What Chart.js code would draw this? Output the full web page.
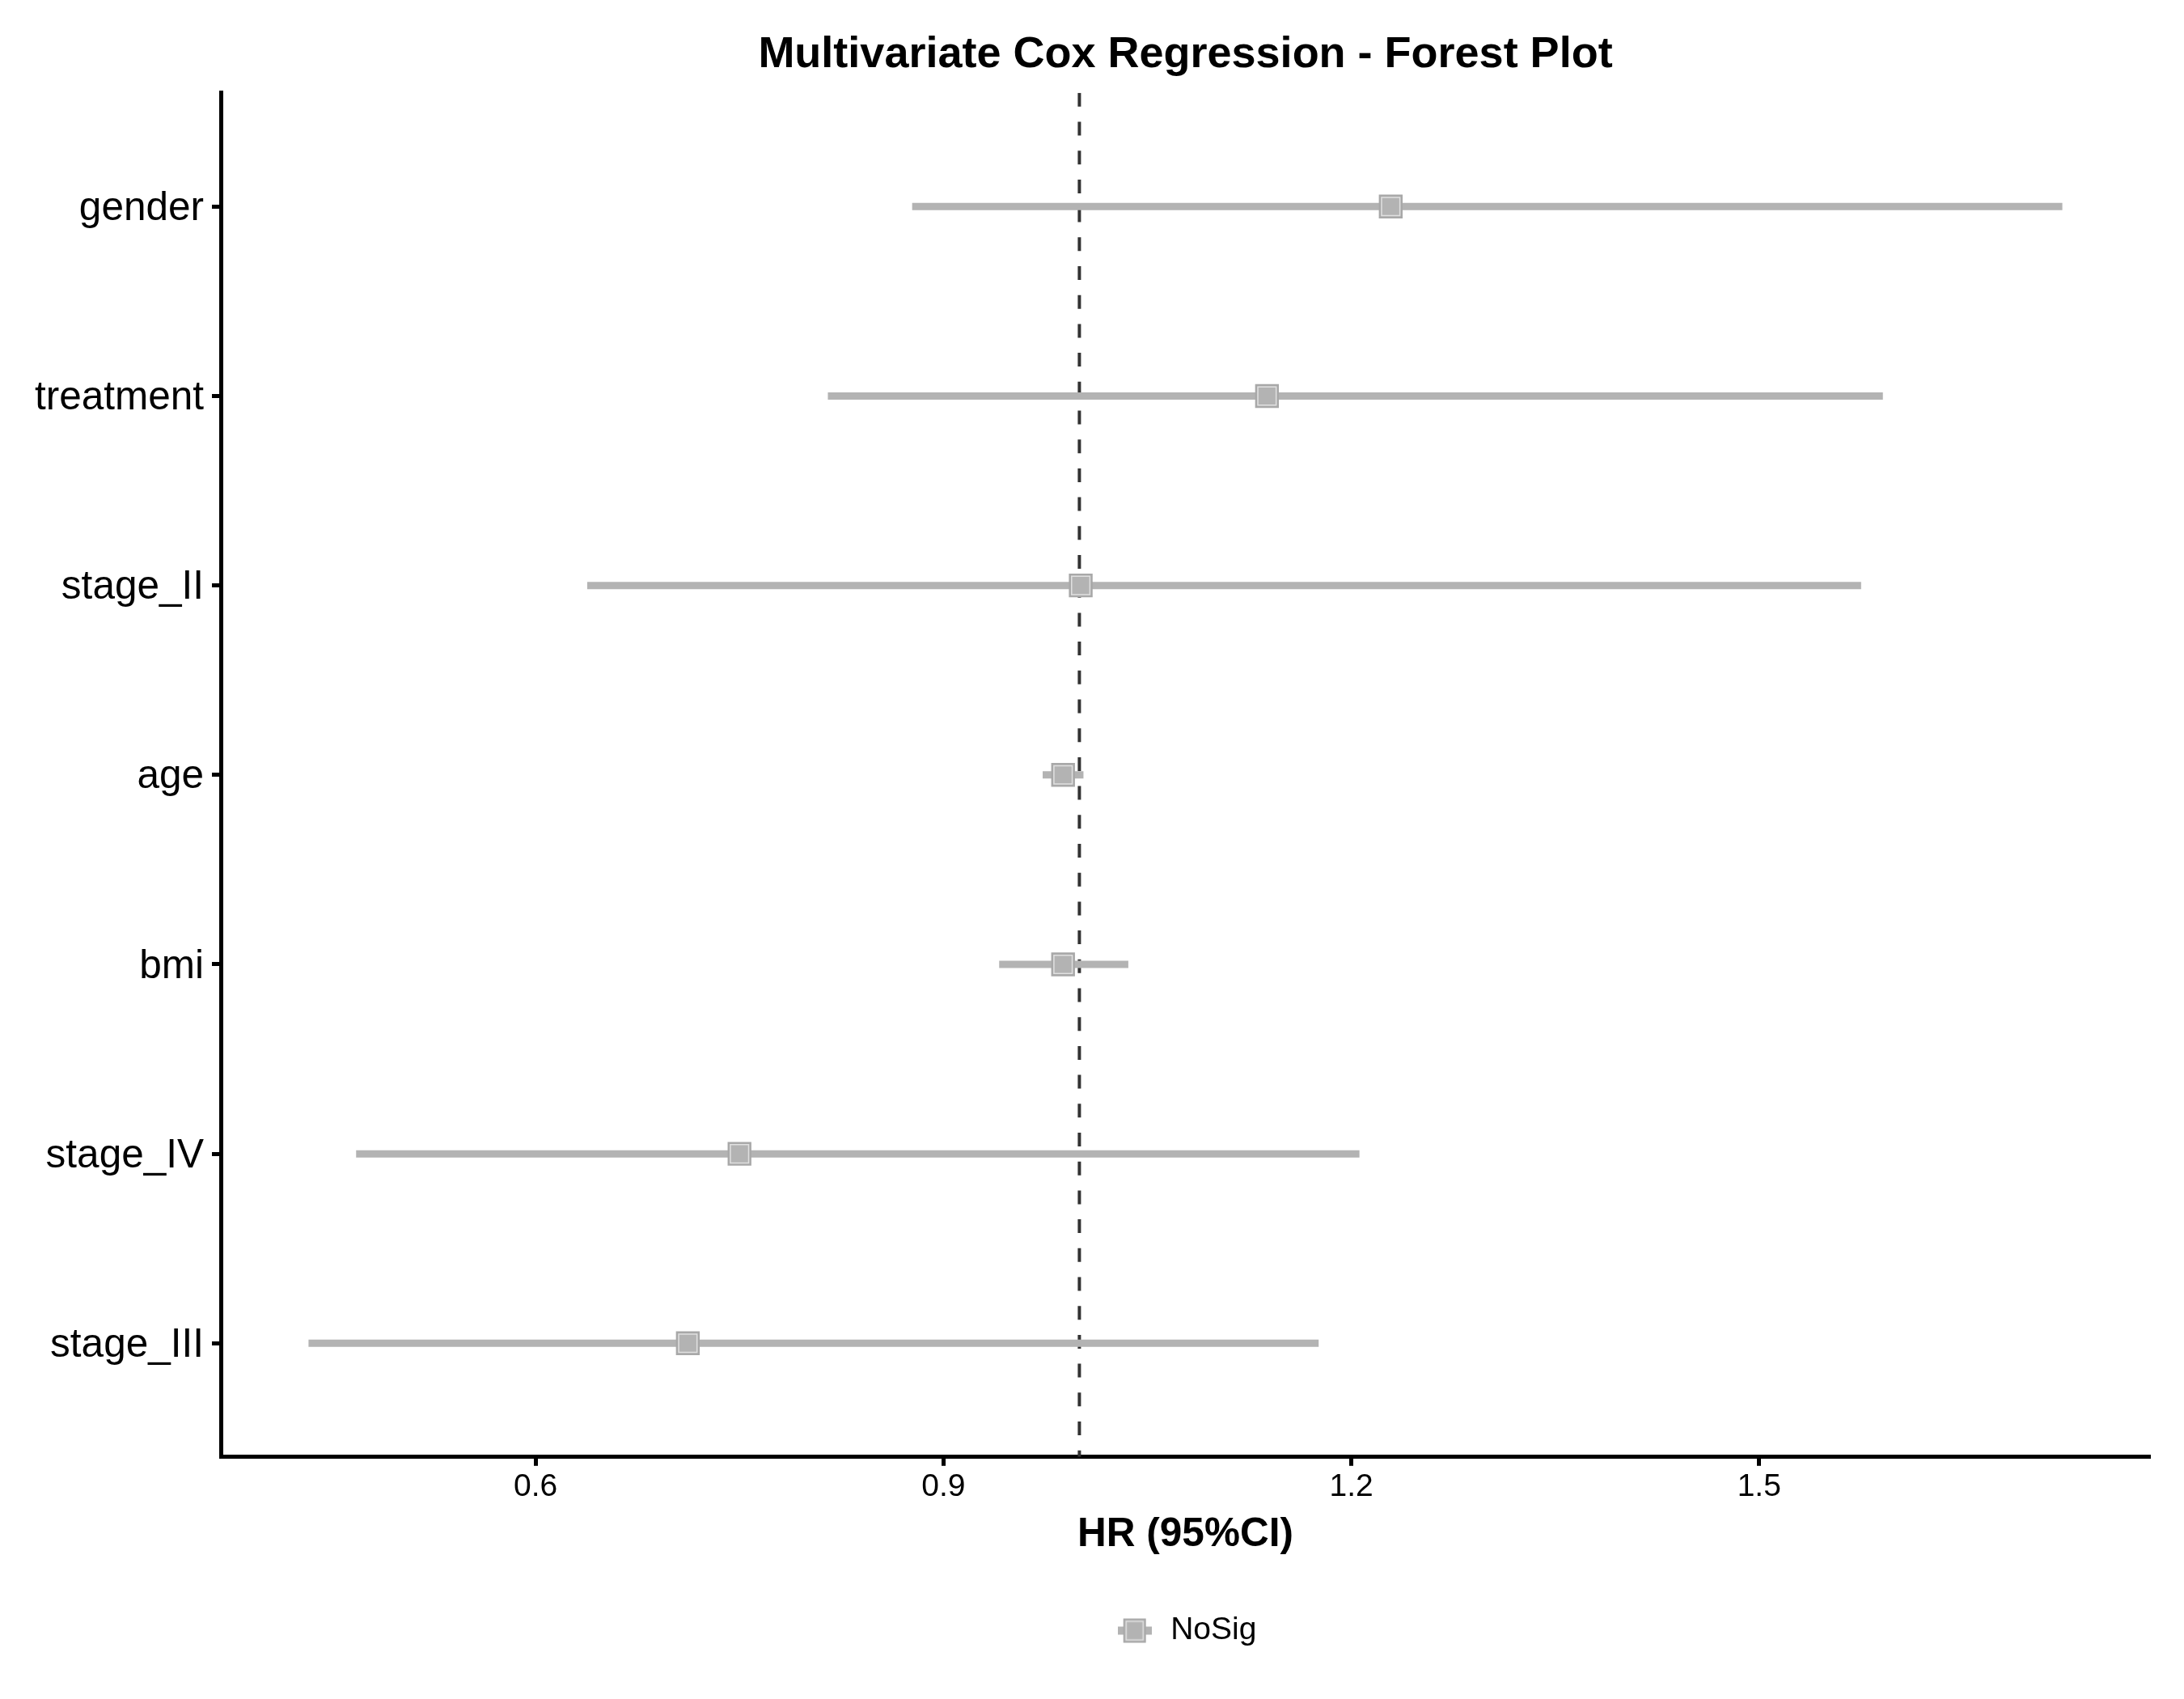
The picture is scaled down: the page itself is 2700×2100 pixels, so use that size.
<!DOCTYPE html>
<html>
<head>
<meta charset="utf-8">
<script src="https://cdn.jsdelivr.net/npm/chart.js@4/dist/chart.umd.min.js"></script>
<style>
  html, body { margin: 0; padding: 0; background: #ffffff; }
  #wrap { width: 2700px; height: 2100px; }
</style>
</head>
<body>
<div id="wrap"><canvas id="c" width="2700" height="2100"></canvas></div>
<script>
// ---------------- data ----------------
const categories = ['gender', 'treatment', 'stage_II', 'age', 'bmi', 'stage_IV', 'stage_III'];
const hazardRatio = [1.229, 1.138, 1.001, 0.988, 0.988, 0.750, 0.712];
const ciLower     = [0.877, 0.815, 0.638, 0.973, 0.941, 0.468, 0.433];
const ciUpper     = [1.723, 1.591, 1.575, 1.003, 1.036, 1.206, 1.176];
const xTickValues = [0.6, 0.9, 1.2, 1.5];
const referenceHR = 1;
const groupLabel  = 'NoSig';
const chartTitle  = 'Multivariate Cox Regression - Forest Plot';
const xAxisTitle  = 'HR (95%CI)';

// ---------------- styling ----------------
const FONT = "'Liberation Sans', Arial, Helvetica, sans-serif";
const GREY = '#b3b3b3';

// ggplot-like 5% expansion of the continuous x range
const dataMin = Math.min(...ciLower), dataMax = Math.max(...ciUpper);
const span = dataMax - dataMin;
const xMin = dataMin - 0.05 * span, xMax = dataMax + 0.05 * span;

// legend key (pointrange glyph)
function makeLegendKey() {
  const c = document.createElement('canvas');
  c.width = 42; c.height = 32;
  const g = c.getContext('2d');
  g.fillStyle = GREY;
  g.fillRect(0, 11, 42, 10);
  g.fillStyle = '#a9a9a9';
  g.fillRect(7, 1, 28, 30);
  g.fillStyle = GREY;
  g.fillRect(9, 3, 24, 26);
  g.strokeStyle = '#e2e2e2';
  g.lineWidth = 1.5;
  g.strokeRect(10.5, 4.5, 21, 23);
  return c;
}
const legendKey = makeLegendKey();

const ciDatasets = categories.map((cat, i) => ({
  type: 'line',
  label: cat,
  data: [{x: ciLower[i], y: i}, {x: ciUpper[i], y: i}],
  borderColor: GREY,
  borderWidth: 9,
  borderCapStyle: 'butt',
  pointRadius: 0,
  pointHoverRadius: 0,
  fill: false,
  order: 5
}));

const datasets = [
  {
    type: 'scatter',
    label: groupLabel,
    data: hazardRatio.map((v, i) => ({x: v, y: i})),
    pointStyle: 'rect',
    pointRadius: 16,
    pointHoverRadius: 16,
    backgroundColor: GREY,
    borderColor: '#e0e0e0',
    borderWidth: 1.5,
    order: 1
  },
  {
    type: 'scatter',
    label: groupLabel + '_outline',
    data: hazardRatio.map((v, i) => ({x: v, y: i})),
    pointStyle: 'rect',
    pointRadius: 19,
    pointHoverRadius: 19,
    backgroundColor: GREY,
    borderColor: '#a8a8a8',
    borderWidth: 2.5,
    order: 2
  },
  ...ciDatasets,
  {
    type: 'line',
    label: 'reference',
    data: [{x: referenceHR, y: -0.6}, {x: referenceHR, y: categories.length - 0.4}],
    borderColor: '#333333',
    borderWidth: 4,
    borderDash: [17, 18.7],
    pointRadius: 0,
    pointHoverRadius: 0,
    fill: false,
    order: 10
  }
];

new Chart(document.getElementById('c'), {
  type: 'scatter',
  data: { datasets },
  options: {
    responsive: false,
    animation: false,
    devicePixelRatio: 1,
    events: [],
    layout: { padding: { left: 0, right: 42, top: 0, bottom: 55 } },
    plugins: {
      tooltip: { enabled: false },
      title: {
        display: true,
        fullSize: false,
        text: chartTitle,
        color: '#000000',
        font: { family: FONT, size: 54, weight: 'bold', lineHeight: 1.2 },
        padding: { top: 36, bottom: 14 }
      },
      legend: {
        display: true,
        fullSize: false,
        position: 'bottom',
        labels: {
          color: '#000000',
          font: { family: FONT, size: 39 },
          usePointStyle: true,
          pointStyleWidth: 50,
          boxHeight: 32,
          padding: 10,
          generateLabels: () => [{
            text: groupLabel,
            pointStyle: legendKey,
            fillStyle: GREY,
            strokeStyle: GREY,
            lineWidth: 0,
            hidden: false,
            datasetIndex: 0,
            fontColor: '#000000'
          }]
        }
      }
    },
    scales: {
      x: {
        type: 'linear',
        position: 'bottom',
        min: xMin,
        max: xMax,
        afterBuildTicks: (scale) => { scale.ticks = xTickValues.map(v => ({value: v})); },
        ticks: {
          color: '#000000',
          font: { family: FONT, size: 39 },
          padding: 3,
          maxRotation: 0,
          autoSkip: false,
          callback: (v) => String(v)
        },
        grid: {
          display: true,
          drawOnChartArea: false,
          drawTicks: true,
          tickLength: 11,
          tickWidth: 5,
          tickColor: '#000000'
        },
        border: { display: true, color: '#000000', width: 5 },
        title: {
          display: true,
          text: xAxisTitle,
          color: '#000000',
          font: { family: FONT, size: 49.5, weight: 'bold', lineHeight: 1.2 },
          padding: { top: 3, bottom: 59 }
        }
      },
      y: {
        type: 'linear',
        position: 'left',
        reverse: true,
        min: -0.6,
        max: categories.length - 0.4,
        afterBuildTicks: (scale) => { scale.ticks = categories.map((c, i) => ({value: i})); },
        afterFit: (scale) => { scale.width = 273; },
        ticks: {
          color: '#000000',
          font: { family: FONT, size: 49.5 },
          padding: 10,
          labelOffset: 3,
          autoSkip: false,
          callback: (v) => categories[v]
        },
        grid: {
          display: true,
          drawOnChartArea: false,
          drawTicks: true,
          tickLength: 11,
          tickWidth: 5,
          tickColor: '#000000'
        },
        border: { display: true, color: '#000000', width: 5 }
      }
    }
  }
});
</script>
</body>
</html>
